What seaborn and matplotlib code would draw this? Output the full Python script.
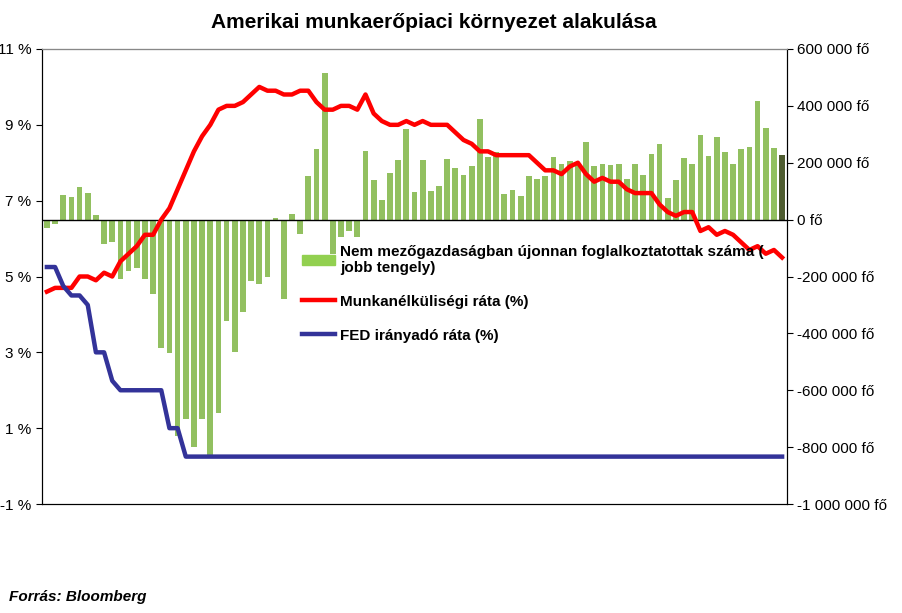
import pandas as pd
import matplotlib
matplotlib.use("Agg")
import matplotlib.pyplot as plt
import seaborn as sns
from matplotlib.ticker import FuncFormatter
from matplotlib.patches import Patch
from matplotlib.lines import Line2D

plt.rcParams["font.family"] = "Liberation Sans"

# Havi adatok 2007-08 .. 2015-02
months = pd.period_range("2007-08", "2015-02", freq="M").strftime("%Y-%m").tolist()

# Nem mezőgazdasági foglalkoztatás változása (ezer fő)
payrolls_k = [
    -30, -15, 85, 80, 115, 95, 15, -85, -80, -210, -180, -170, -210, -260,
    -450, -470, -760, -700, -800, -700, -830, -680, -355, -465, -325, -215,
    -225, -200, 5, -280, 20, -50, 155, 250, 515, -120, -60, -40, -60, 240, 140,
    70, 165, 210, 320,
    98, 210, 102, 117, 214, 180, 158, 190, 354, 221, 239, 91, 105, 84, 154,
    144, 154, 221, 196, 207, 192, 274, 190, 196, 192, 196, 144, 196, 158, 232,
    267, 77, 140, 218, 196, 298, 225, 292, 239, 196, 249, 256, 418, 323, 251,
    228,
]
payrolls = [v * 1000 for v in payrolls_k]

# Munkanélküliségi ráta (%)
unemployment = [
    4.6, 4.7, 4.7, 4.7, 5.0,
    5.0, 4.9, 5.1, 5.0, 5.4, 5.6, 5.8, 6.1, 6.1, 6.5, 6.8, 7.3,
    7.8, 8.3, 8.7, 9.0, 9.4, 9.5, 9.5, 9.6, 9.8, 10.0, 9.9, 9.9,
    9.8, 9.8, 9.9, 9.9, 9.6, 9.4, 9.4, 9.5, 9.5, 9.4, 9.8, 9.3,
    9.1, 9.0, 9.0, 9.1, 9.0, 9.1, 9.0, 9.0, 9.0, 8.8, 8.6, 8.5,
    8.3, 8.3, 8.2, 8.2, 8.2, 8.2, 8.2, 8.0, 7.8, 7.8, 7.7, 7.9,
    8.0, 7.7, 7.5, 7.6, 7.5, 7.5, 7.3, 7.2, 7.2, 7.2, 6.9, 6.7,
    6.6, 6.7, 6.7, 6.2, 6.3, 6.1, 6.2, 6.1, 5.9, 5.7, 5.8, 5.6,
    5.7, 5.5,
]

# FED irányadó ráta (%)
fed_rate = [5.25, 5.25, 4.75, 4.5, 4.5, 4.25, 3.0, 3.0, 2.25] + [2.0] * 6 + [1.0, 1.0]
fed_rate += [0.25] * (len(months) - len(fed_rate))

df = pd.DataFrame({"month": months, "payrolls": payrolls,
                   "unemp": unemployment, "fed": fed_rate})
df["pos"] = range(len(df))
df["kind"] = ["last" if i == len(df) - 1 else "normal" for i in df["pos"]]

fig = plt.figure(figsize=(9.03, 6.13), dpi=100)
ax = fig.add_axes([42 / 903, 1 - 504 / 613, 745 / 903, 455 / 613])
ax2 = ax.twinx()

sns.barplot(data=df, x="pos", y="payrolls", hue="kind", ax=ax2,
            palette={"normal": "#92d050", "last": "#4f6228"},
            width=0.7, legend=False)
ax2.axhline(0, color="black", lw=1)
ax2.set_ylim(-1_000_000, 600_000)
ax2.set_yticks(range(-1_000_000, 600_001, 200_000))
ax2.yaxis.set_major_formatter(FuncFormatter(
    lambda v, p: f"{int(v):,} fő".replace(",", " ")))
ax2.set_ylabel("")

sns.lineplot(data=df, x="pos", y="unemp", ax=ax, color="#ff0000", lw=3.2)
sns.lineplot(data=df, x="pos", y="fed", ax=ax, color="#333399", lw=3.2)
ax.set_zorder(ax2.get_zorder() + 1)
ax.patch.set_visible(False)

ax.set_ylim(-1, 11)
ax.set_yticks(range(-1, 12, 2))
ax.yaxis.set_major_formatter(FuncFormatter(lambda v, p: f"{int(v)} %"))
ax.set_xlim(-0.6, len(df) - 0.4)
ax2.set_xlim(-0.6, len(df) - 0.4)
ax.set_xticks(range(0, len(df), 3))
ax.set_xticklabels(months[::3], rotation=90)
ax2.set_xticks([])
ax.set_xlabel("")
ax.set_ylabel("")
for a in (ax, ax2):
    a.tick_params(labelsize=11, length=4)
    for s in a.spines.values():
        s.set_color("black")
ax.spines["top"].set_color("#888888")
ax.tick_params(axis="x", length=0)

handles = [
    Patch(color="#92d050"),
    Line2D([], [], color="#ff0000", lw=3.2),
    Line2D([], [], color="#333399", lw=3.2),
]
labels = [
    "Nem mezőgazdaságban újonnan foglalkoztatottak száma (\njobb tengely)",
    "Munkanélküliségi ráta (%)",
    "FED irányadó ráta (%)",
]
ax.legend(handles, labels, loc="upper left", bbox_to_anchor=(0.33, 0.6),
          frameon=False, prop={"weight": "bold", "size": 11},
          labelspacing=1.3, handlelength=2.2, handletextpad=0.3)

fig.text(0.48, 0.955, "Amerikai munkaerőpiaci környezet alakulása",
         ha="center", fontsize=15, fontweight="bold")
fig.text(0.01, 0.02, "Forrás: Bloomberg", fontsize=11,
         fontweight="bold", style="italic")

fig.savefig("out.png", dpi=100)
